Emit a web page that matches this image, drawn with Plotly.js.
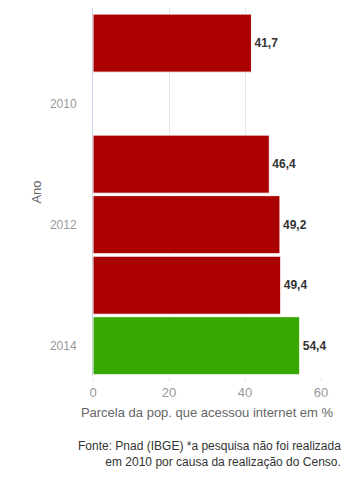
<!DOCTYPE html>
<html><head><meta charset="utf-8">
<script src="https://cdn.plot.ly/plotly-3.0.1.min.js"></script>
<style>body{margin:0;padding:0;background:#fff}#c{width:355px;height:479px}</style>
</head><body><div id="c"></div>
<script>
const anos = [2009, 2011, 2012, 2013, 2014];
const valores = [41.7, 46.4, 49.2, 49.4, 54.4];
const cores = ['#aa0000', '#aa0000', '#aa0000', '#aa0000', '#38a800'];
const anoTicks = [2010, 2012, 2014];
const xTicks = [0, 20, 40, 60];
const rotulos = valores.map(v => v.toFixed(1).replace('.', ','));

const trace = {
  type: 'bar', orientation: 'h',
  x: valores, y: anos,
  width: 0.96,
  marker: {color: cores, line: {color: '#ffffff', width: 1}},
  text: rotulos, textposition: 'outside', cliponaxis: false,
  textfont: {family: 'Liberation Sans, Arial, sans-serif', size: 12, color: '#333333', weight: 'bold'},
  hoverinfo: 'none'
};

const layout = {
  width: 355, height: 479,
  margin: {l: 93, r: 34, t: 8, b: 103},
  paper_bgcolor: '#fff', plot_bgcolor: '#fff',
  font: {family: 'Liberation Sans, Arial, sans-serif', color: '#666666'},
  showlegend: false,
  xaxis: {
    range: [0, 60], tickvals: xTicks, ticktext: xTicks.map(String),
    showgrid: true, gridcolor: '#e6e6e6', gridwidth: 1,
    zeroline: false, showline: false,
    ticks: 'outside', ticklen: 4, tickcolor: '#e6e6e6',
    tickfont: {size: 13, color: '#999999'},
    title: {text: 'Parcela da pop. que acessou internet em %', font: {size: 13, color: '#666666'}, standoff: 9}
  },
  yaxis: {
    range: [2014.5, 2008.42], tickvals: anoTicks, ticktext: anoTicks.map(String),
    showgrid: false, zeroline: false,
    showline: true, linecolor: '#ccd6eb', linewidth: 1,
    ticks: '', ticklabelstandoff: 13,
    tickfont: {size: 12, color: '#999999'},
    title: {text: 'Ano', font: {size: 13, color: '#666666'}, standoff: 5}
  },
  annotations: [{
    xref: 'paper', yref: 'paper', x: 1.096, y: -0.165, xanchor: 'right', yanchor: 'top',
    align: 'right', showarrow: false,
    text: 'Fonte: Pnad (IBGE) *a pesquisa não foi realizada<br>em 2010 por causa da realização do Censo.',
    font: {size: 12, color: '#333333', family: 'Liberation Sans, Arial, sans-serif'}
  }]
};

Plotly.newPlot('c', [trace], layout, {displayModeBar: false, staticPlot: true});
</script></body></html>
